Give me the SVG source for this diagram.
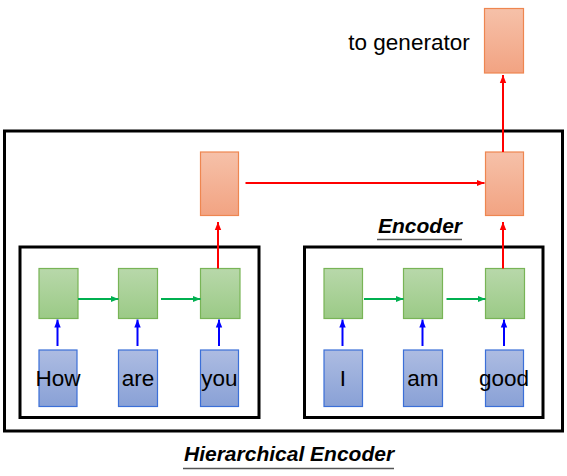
<svg xmlns="http://www.w3.org/2000/svg" width="567" height="476" viewBox="0 0 567 476">
<defs>
<linearGradient id="gO" x1="0" y1="0" x2="0" y2="1"><stop offset="0" stop-color="#f6c1a9"/><stop offset="1" stop-color="#f2a382"/></linearGradient>
<linearGradient id="gG" x1="0" y1="0" x2="0" y2="1"><stop offset="0" stop-color="#b8d8aa"/><stop offset="1" stop-color="#9bca86"/></linearGradient>
<linearGradient id="gB" x1="0" y1="0" x2="0" y2="1"><stop offset="0" stop-color="#adbce2"/><stop offset="1" stop-color="#89a1d6"/></linearGradient>
<marker id="aR" viewBox="0 0 8 8" refX="8" refY="4" markerWidth="8" markerHeight="8" markerUnits="userSpaceOnUse" orient="auto"><path d="M0,0.8 L8,4 L0,7.2 z" fill="#ff0000"/></marker>
<marker id="aG" viewBox="0 0 8 8" refX="8" refY="4" markerWidth="8" markerHeight="8" markerUnits="userSpaceOnUse" orient="auto"><path d="M0,0.8 L8,4 L0,7.2 z" fill="#00b050"/></marker>
<marker id="aB" viewBox="0 0 8 8" refX="8" refY="4" markerWidth="8" markerHeight="8" markerUnits="userSpaceOnUse" orient="auto"><path d="M0,0.8 L8,4 L0,7.2 z" fill="#0000ff"/></marker>
</defs>
<style>
.o{fill:url(#gO);stroke:#ee8650;stroke-width:1.2}
.g{fill:url(#gG);stroke:#78b456;stroke-width:1.2}
.b{fill:url(#gB);stroke:#3b6fd8;stroke-width:1.2}
.frame{fill:none;stroke:#000;stroke-width:3}
.w{font-family:"Liberation Sans",Arial,sans-serif;font-size:22.5px;fill:#000;text-anchor:middle}
.t{font-family:"Liberation Sans",Arial,sans-serif;font-size:21px;font-weight:bold;font-style:italic;fill:#000}
.ul{stroke:#555;stroke-width:1.5}
.r{stroke:#ff0000;stroke-width:2;fill:none}
.gr{stroke:#00b050;stroke-width:2;fill:none}
.bl{stroke:#0000ff;stroke-width:2;fill:none}
</style>
<rect width="567" height="476" fill="#fff"/>
<g id="hierarchical-encoder">
<rect class="frame" x="4.5" y="131" width="558" height="300"/>
<text class="t" x="184" y="461" font-size="21.4">Hierarchical Encoder</text>
<line class="ul" x1="183" y1="468.5" x2="394" y2="468.5"/>
</g>
<g id="encoder-label">
<text class="t" x="378" y="232.5">Encoder</text>
<line class="ul" x1="377" y1="239.5" x2="462" y2="239.5"/>
</g>
<g id="encoder-left">
<rect class="frame" x="20" y="247" width="239" height="170.5"/>
</g>
<g id="encoder-right">
<rect class="frame" x="304.5" y="247" width="238.5" height="170.5"/>
</g>
<g id="top-state"><rect class="o" x="484.5" y="8.5" width="39" height="64.5"/></g>
<g id="to-generator-label"><text class="w" x="409" y="49.5">to generator</text></g>
<g id="sent1-state"><rect class="o" x="200.5" y="152" width="38" height="63.5"/></g>
<g id="sent2-state"><rect class="o" x="485.5" y="152" width="38" height="63.5"/></g>
<g id="h1"><rect class="g" x="39" y="268.5" width="39" height="50"/></g>
<g id="h2"><rect class="g" x="118.5" y="268.5" width="39" height="50"/></g>
<g id="h3"><rect class="g" x="200.5" y="268.5" width="39.5" height="50"/></g>
<g id="h4"><rect class="g" x="324" y="268.5" width="38.5" height="50"/></g>
<g id="h5"><rect class="g" x="403.5" y="268.5" width="39" height="50"/></g>
<g id="h6"><rect class="g" x="485.5" y="268.5" width="39" height="50"/></g>
<g id="w-how"><rect class="b" x="39" y="350" width="38" height="56.5"/><text class="w" x="58" y="385.5">How</text></g>
<g id="w-are"><rect class="b" x="118.5" y="350" width="39" height="56.5"/><text class="w" x="138" y="385.5">are</text></g>
<g id="w-you"><rect class="b" x="200.5" y="350" width="38" height="56.5"/><text class="w" x="219.5" y="385.5">you</text></g>
<g id="w-i"><rect class="b" x="324" y="350" width="38.5" height="56.5"/><text class="w" x="343" y="385.5">I</text></g>
<g id="w-am"><rect class="b" x="403.5" y="350" width="39" height="56.5"/><text class="w" x="423" y="385.5">am</text></g>
<g id="w-good"><rect class="b" x="485.5" y="350" width="38" height="56.5"/><text class="w" x="504" y="385.5">good</text></g>
<g id="connectors">
<line class="bl" x1="57.5" y1="346" x2="57.5" y2="319.5" marker-end="url(#aB)"/>
<line class="bl" x1="137.5" y1="346" x2="137.5" y2="319.5" marker-end="url(#aB)"/>
<line class="bl" x1="219" y1="346" x2="219" y2="319.5" marker-end="url(#aB)"/>
<line class="bl" x1="342.5" y1="346" x2="342.5" y2="319.5" marker-end="url(#aB)"/>
<line class="bl" x1="422.5" y1="346" x2="422.5" y2="319.5" marker-end="url(#aB)"/>
<line class="bl" x1="504" y1="346" x2="504" y2="319.5" marker-end="url(#aB)"/>
<line class="gr" x1="78" y1="299" x2="118.5" y2="299" marker-end="url(#aG)"/>
<line class="gr" x1="161" y1="299" x2="200.5" y2="299" marker-end="url(#aG)"/>
<line class="gr" x1="364" y1="299" x2="403.5" y2="299" marker-end="url(#aG)"/>
<line class="gr" x1="446.5" y1="299" x2="485.5" y2="299" marker-end="url(#aG)"/>
<line class="r" x1="218" y1="268.5" x2="218" y2="222" marker-end="url(#aR)"/>
<line class="r" x1="503" y1="268.5" x2="503" y2="222" marker-end="url(#aR)"/>
<line class="r" x1="245.5" y1="183" x2="484.5" y2="183" marker-end="url(#aR)"/>
<line class="r" x1="503" y1="152" x2="503" y2="75" marker-end="url(#aR)"/>
</g>
</svg>
